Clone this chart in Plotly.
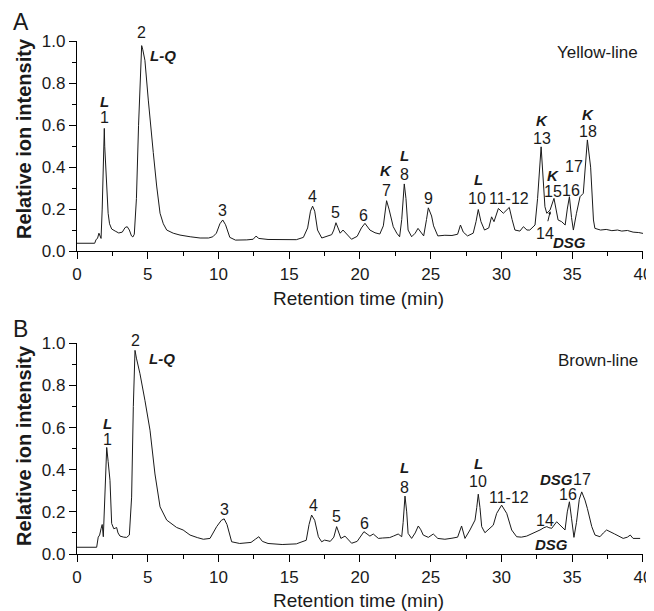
import plotly.graph_objects as go

# ---- Data (retention time in min, relative ion intensity) ----
yellow_time = [0, 1.25, 1.35, 1.45, 1.55, 1.62, 1.7, 1.78, 1.85, 1.9, 1.93, 1.96, 2.02, 2.1, 2.2, 2.3,
               2.45, 2.7, 2.95, 3.2, 3.4, 3.55, 3.7, 3.85, 3.95, 4.05, 4.2, 4.35, 4.5, 4.57, 4.65, 4.8,
               5.04, 5.16, 5.39, 5.63, 5.87, 6.1, 6.34, 6.8, 7.28, 8.0, 8.7, 9.3, 9.6, 9.85, 10.1, 10.3,
               10.5, 10.8, 11.2, 12.0, 12.45, 12.65, 12.85, 13.5, 14.5, 15.5, 16.0, 16.3, 16.5, 16.65,
               16.8, 17.0, 17.3, 17.6, 18.0, 18.15, 18.3, 18.45, 18.6, 18.8, 19.0, 19.4, 19.8, 20.1,
               20.35, 20.7, 21.06, 21.4, 21.65, 21.88, 22.05, 22.2, 22.35, 22.6, 22.8, 22.95, 23.13,
               23.25, 23.4, 23.65, 23.9, 24.1, 24.3, 24.5, 24.7, 24.83, 25.06, 25.2, 25.5, 26.0, 26.5,
               26.9, 27.1, 27.3, 27.6, 28.0, 28.2, 28.36, 28.55, 28.8, 29.1, 29.3, 29.47, 29.78, 30.13,
               30.37, 30.55, 30.75, 30.95, 31.3, 31.55, 31.8, 32.0, 32.37, 32.55, 32.8, 32.95, 33.07,
               33.2, 33.43, 33.71, 33.85, 34.0, 34.25, 34.5, 34.65, 34.8, 34.95, 35.08, 35.3, 35.55,
               35.78, 35.95, 36.07, 36.3, 36.5, 36.6, 37.0, 37.4, 37.8, 38.2, 38.5, 38.9, 39.3, 39.7, 40]
yellow_int = [0.037, 0.037, 0.055, 0.06, 0.085, 0.07, 0.06, 0.2, 0.4, 0.52, 0.585, 0.5, 0.42, 0.3, 0.18, 0.13,
              0.105, 0.095, 0.086, 0.09, 0.112, 0.116, 0.1, 0.072, 0.067, 0.08, 0.25, 0.6, 0.93, 0.98, 0.96, 0.91,
              0.72, 0.62, 0.47, 0.31, 0.18, 0.13, 0.10, 0.085, 0.076, 0.068, 0.062, 0.062, 0.068, 0.085, 0.13, 0.148,
              0.125, 0.065, 0.052, 0.053, 0.056, 0.071, 0.06, 0.055, 0.053, 0.054, 0.065, 0.11, 0.19, 0.214,
              0.19, 0.1, 0.062, 0.07, 0.078, 0.1, 0.135, 0.11, 0.085, 0.1, 0.085, 0.056, 0.07, 0.11,
              0.132, 0.10, 0.087, 0.081, 0.12, 0.24, 0.2, 0.15, 0.116, 0.085, 0.068, 0.15, 0.32,
              0.25, 0.1, 0.068, 0.085, 0.108, 0.09, 0.072, 0.15, 0.206, 0.167, 0.12, 0.072, 0.075, 0.074,
              0.08, 0.124, 0.09, 0.072, 0.085, 0.14, 0.198, 0.14, 0.1, 0.11, 0.163, 0.14, 0.203, 0.18,
              0.195, 0.208, 0.15, 0.10, 0.095, 0.116, 0.10, 0.10, 0.124, 0.25, 0.497, 0.35, 0.211,
              0.18, 0.195, 0.251, 0.2, 0.148, 0.14, 0.124, 0.2, 0.259, 0.16, 0.10, 0.18, 0.259,
              0.275, 0.45, 0.53, 0.40, 0.148, 0.108, 0.10, 0.103, 0.097, 0.1, 0.095, 0.098, 0.09, 0.088, 0.084]

brown_time = [0, 1.39, 1.5, 1.6, 1.7, 1.78, 1.86, 1.95, 2.03, 2.1, 2.2, 2.33, 2.45, 2.6, 2.69, 2.8, 2.9,
              3.04, 3.3, 3.51, 3.7, 3.86, 3.98, 4.1, 4.2, 4.45, 4.8, 5.16, 5.51, 5.87, 6.34, 7.04, 7.5,
              7.99, 8.5, 8.93, 9.4, 9.87, 10.2, 10.4, 10.6, 10.93, 11.5, 12.3, 12.6, 12.85, 13.1, 13.5,
              14.5, 15.5, 15.9, 16.2, 16.4, 16.58, 16.8, 17.06, 17.29, 17.5, 17.9, 18.15, 18.35, 18.5,
              18.65, 18.94, 19.41, 19.8, 20.1, 20.28, 20.5, 20.7, 20.94, 21.3, 21.6, 21.88, 22.1, 22.36,
              22.7, 22.95, 23.05, 23.18, 23.3, 23.4, 23.65, 23.9, 24.12, 24.3, 24.47, 24.83, 25.18, 25.5,
              26.0, 26.5, 26.9, 27.18, 27.42, 27.77, 28.13, 28.25, 28.36, 28.48, 28.6, 28.83, 29.19, 29.42,
              29.66, 30.01, 30.37, 30.72, 31.07, 31.4, 31.78, 32.25, 32.72, 33.0, 33.2, 33.35, 33.55, 33.9,
              34.25, 34.49, 34.65, 34.8, 34.95, 35.12, 35.3, 35.5, 35.67, 35.9, 36.07, 36.38, 36.61, 36.96,
              37.2, 37.43, 38.0, 38.6, 38.9, 39.1, 39.3, 39.8]
brown_int = [0.032, 0.032, 0.08, 0.09, 0.12, 0.14, 0.082, 0.25, 0.42, 0.506, 0.44, 0.35, 0.145, 0.12, 0.122, 0.126, 0.1,
             0.085, 0.08, 0.079, 0.09, 0.27, 0.7, 0.967, 0.93, 0.856, 0.73, 0.588, 0.38, 0.224, 0.161, 0.126, 0.114,
             0.09, 0.078, 0.07, 0.074, 0.13, 0.16, 0.167, 0.14, 0.058, 0.05, 0.055, 0.07, 0.082, 0.06, 0.05,
             0.045, 0.048, 0.058, 0.065, 0.14, 0.185, 0.16, 0.082, 0.058, 0.066, 0.06, 0.08, 0.13, 0.1,
             0.074, 0.085, 0.051, 0.06, 0.09, 0.106, 0.095, 0.085, 0.095, 0.074, 0.076, 0.079, 0.078, 0.085,
             0.095, 0.082, 0.15, 0.275, 0.2, 0.098, 0.074, 0.1, 0.133, 0.115, 0.09, 0.079, 0.095, 0.074,
             0.07, 0.075, 0.08, 0.133, 0.074, 0.114, 0.161, 0.22, 0.284, 0.22, 0.13, 0.101, 0.122, 0.137,
             0.193, 0.232, 0.193, 0.114, 0.082, 0.08, 0.085, 0.098, 0.114, 0.125, 0.13, 0.125, 0.122, 0.153,
             0.13, 0.114, 0.2, 0.248, 0.17, 0.079, 0.15, 0.26, 0.295, 0.256, 0.216, 0.13, 0.09, 0.082,
             0.1, 0.114, 0.095, 0.074, 0.08, 0.09, 0.074, 0.074]

# Peak labels: (text, time, intensity, style)  ("b" = bold italic marker, "n" = peak number)
yellow_labels = [("<b><i>L-Q</i></b>", 6.1, 0.935, "b"),
                 ("<b><i>L</i></b>", 1.91, 0.714, "b"), ("1", 1.91, 0.636, "n"),
                 ("3", 10.3, 0.195, "n"), ("4", 16.65, 0.259, "n"), ("5", 18.3, 0.186, "n"),
                 ("6", 20.28, 0.171, "n"), ("<b><i>K</i></b>", 21.84, 0.382, "b"), ("7", 21.84, 0.287, "n"),
                 ("<b><i>L</i></b>", 23.11, 0.455, "b"), ("8", 23.11, 0.366, "n"), ("9", 24.83, 0.251, "n"),
                 ("<b><i>L</i></b>", 28.36, 0.342, "b"), ("10", 28.3, 0.249, "n"), ("11-12", 30.5, 0.249, "n"),
                 ("<b><i>K</i></b>", 32.84, 0.624, "b"), ("13", 32.84, 0.538, "n"),
                 ("<b><i>K</i></b>", 33.64, 0.362, "b"), ("15", 33.66, 0.282, "n"), ("16", 34.92, 0.29, "n"),
                 ("17", 35.12, 0.405, "n"), ("<b><i>K</i></b>", 36.13, 0.65, "b"), ("18", 36.13, 0.57, "n"),
                 ("14", 33.07, 0.084, "n"), ("<b><i>DSG</i></b>", 34.78, 0.04, "b")]
brown_labels = [("<b><i>L-Q</i></b>", 6.04, 0.929, "b"),
                ("<b><i>L</i></b>", 2.14, 0.62, "b"), ("1", 2.14, 0.545, "n"),
                ("3", 10.39, 0.211, "n"), ("4", 16.7, 0.231, "n"), ("5", 18.35, 0.177, "n"),
                ("6", 20.35, 0.145, "n"), ("<b><i>L</i></b>", 23.18, 0.41, "b"), ("8", 23.18, 0.317, "n"),
                ("<b><i>L</i></b>", 28.36, 0.43, "b"), ("10", 28.36, 0.343, "n"), ("11-12", 30.52, 0.269, "n"),
                ("<b><i>DSG</i></b>", 33.86, 0.355, "b"), ("17", 35.7, 0.353, "n"), ("16", 34.72, 0.281, "n"),
                ("14", 33.07, 0.161, "n"), ("<b><i>DSG</i></b>", 33.51, 0.044, "b")]
# labels sitting above the 1.0 limit: (text, time, pixel row in the reference)
yellow_top_label = ("2", 4.57, 32.5)
brown_top_label = ("2", 4.1, 340.8)

x_ticks = [0, 5, 10, 15, 20, 25, 30, 35, 40]
y_ticks = [0.0, 0.2, 0.4, 0.6, 0.8, 1.0]

# The page body has an 8px margin, so the figure is drawn 8px smaller and all
# reference pixel positions are shifted by that offset.
OFF = 8
W, H = 654 - OFF, 611 - OFF
FONT = "Liberation Sans, Arial, sans-serif"
INK = "#1a1a1a"

def px(X):
    return (X - OFF) / W

def py(Y):
    return (H - (Y - OFF)) / H

fig = go.Figure()
fig.add_trace(go.Scatter(x=yellow_time, y=yellow_int, mode="lines", line=dict(color=INK, width=1),
                         xaxis="x", yaxis="y", showlegend=False, hoverinfo="skip"))
fig.add_trace(go.Scatter(x=brown_time, y=brown_int, mode="lines", line=dict(color=INK, width=1),
                         xaxis="x2", yaxis="y2", showlegend=False, hoverinfo="skip"))

xdom = [px(77), px(643)]
top_dom = [py(251), py(41)]
bot_dom = [py(554), py(343)]

def xax(anchor):
    return dict(domain=xdom, range=[0, 40.001], tickvals=x_ticks, ticks="outside", ticklen=7, tickwidth=1.2,
                tickcolor="black", showline=True, linecolor="black", linewidth=1.3, showgrid=False,
                zeroline=False, anchor=anchor, automargin=False,
                tickfont=dict(family=FONT, size=17, color=INK),
                minor=dict(dtick=2.5, tick0=0, ticks="outside", ticklen=4, tickcolor="black", tickwidth=1.2))

def yax(dom, anchor):
    return dict(domain=dom, range=[0, 1.002], tickvals=y_ticks, tickformat=".1f", ticks="outside", ticklen=7,
                tickwidth=1.2, tickcolor="black", showline=True, linecolor="black", linewidth=1.3,
                showgrid=False, zeroline=False, anchor=anchor, automargin=False,
                tickfont=dict(family=FONT, size=17, color=INK),
                minor=dict(dtick=0.1, tick0=0, ticks="outside", ticklen=4, tickcolor="black", tickwidth=1.2))

fig.update_layout(
    width=W, height=H, margin=dict(l=0, r=0, t=0, b=0, autoexpand=False),
    paper_bgcolor="white", plot_bgcolor="white",
    xaxis=xax("y"), yaxis=yax(top_dom, "x"),
    xaxis2=xax("y2"), yaxis2=yax(bot_dom, "x2"),
)

ann = []
def add_labels(labels, xr, yr):
    for text, tx, ty, style in labels:
        ann.append(dict(text=text, x=tx, y=ty, xref=xr, yref=yr, showarrow=False,
                        font=dict(family=FONT, size=15 if style == "b" else 16, color=INK),
                        xanchor="center", yanchor="middle"))

add_labels(yellow_labels, "x", "y")
add_labels(brown_labels, "x2", "y2")
for (text, tx, row), xr in ((yellow_top_label, "x"), (brown_top_label, "x2")):
    ann.append(dict(text=text, x=tx, y=py(row), xref=xr, yref="paper", showarrow=False,
                    font=dict(family=FONT, size=16, color=INK), xanchor="center", yanchor="middle"))

# arrow from label 14 to its shoulder (top panel)
ann.append(dict(x=33.45, y=0.19, ax=33.25, ay=0.135, xref="x", yref="y", axref="x", ayref="y",
                showarrow=True, arrowhead=2, arrowsize=0.6, arrowwidth=1, arrowcolor=INK, text=""))

# line names
ann.append(dict(text="Yellow-line", x=39.8, y=0.945, xref="x", yref="y", showarrow=False, xanchor="right",
                yanchor="middle", font=dict(family=FONT, size=17, color=INK)))
ann.append(dict(text="Brown-line", x=39.8, y=0.919, xref="x2", yref="y2", showarrow=False, xanchor="right",
                yanchor="middle", font=dict(family=FONT, size=17, color=INK)))

# panel letters
ann.append(dict(text="A", x=px(21), y=py(22), xref="paper", yref="paper", showarrow=False,
                xanchor="center", yanchor="middle", font=dict(family=FONT, size=23, color=INK)))
ann.append(dict(text="B", x=px(20), y=py(329), xref="paper", yref="paper", showarrow=False,
                xanchor="center", yanchor="middle", font=dict(family=FONT, size=23, color=INK)))

# axis titles
for yc in (139, 446):
    ann.append(dict(text="<b>Relative ion intensity</b>", x=px(24), y=py(yc), xref="paper", yref="paper",
                    showarrow=False, textangle=-90, xanchor="center", yanchor="middle",
                    font=dict(family=FONT, size=20, color=INK)))
for yc in (298, 600):
    ann.append(dict(text="Retention time (min)", x=px(359), y=py(yc), xref="paper", yref="paper",
                    showarrow=False, xanchor="center", yanchor="middle",
                    font=dict(family=FONT, size=19, color=INK)))

fig.update_layout(annotations=ann)
fig.write_html("out.html")
